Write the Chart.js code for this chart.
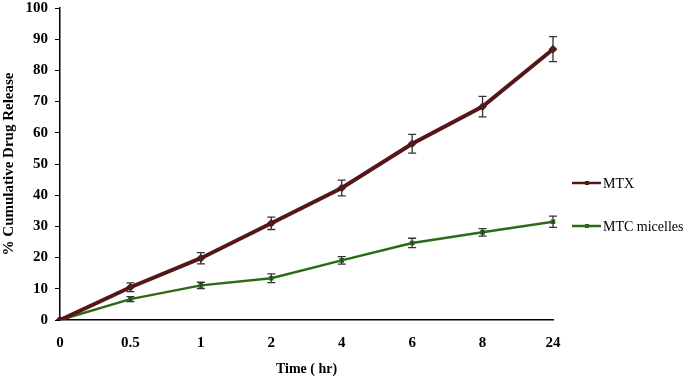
<!DOCTYPE html>
<html>
<head>
<meta charset="utf-8">
<script src="https://cdn.jsdelivr.net/npm/chart.js@4.4.1/dist/chart.umd.min.js"></script>
<style>
    html, body { margin: 0; padding: 0; background: #fff; }
    #wrap { width: 685px; height: 378px; position: relative; }
</style>
</head>
<body>
<div id="wrap"><canvas id="releaseChart"></canvas></div>
<script>
// time points (hr) - plotted evenly spaced like the original
const timeLabels = ["0", "0.5", "1", "2", "4", "6", "8", "24"];

const mtxValues = [0, 10.5, 19.8, 31, 42.3, 56.5, 68.4, 86.8];
const mtxErrors = [0, 1.4, 1.8, 2, 2.5, 3, 3.3, 4];

const micelleValues = [0, 6.7, 11.1, 13.4, 19.1, 24.7, 28.1, 31.5];
const micelleErrors = [0, 0.8, 1, 1.4, 1.2, 1.5, 1.2, 1.8];

const yTicks = [0, 10, 20, 30, 40, 50, 60, 70, 80, 90, 100];

const serif = "'Liberation Serif', 'Times New Roman', serif";

// draws the +/- error bars using the y scale
const errorBarPlugin = {
    id: "errorBars",
    afterDatasetsDraw(chart) {
        const ctx = chart.ctx;
        const yScale = chart.scales.y;
        chart.data.datasets.forEach((ds, i) => {
            const meta = chart.getDatasetMeta(i);
            meta.data.forEach((pt, j) => {
                const err = ds.errors[j];
                if (!err) return;
                const top = yScale.getPixelForValue(ds.data[j] + err);
                const bot = yScale.getPixelForValue(ds.data[j] - err);
                ctx.save();
                ctx.strokeStyle = "#333";
                ctx.lineWidth = 1.3;
                ctx.beginPath();
                ctx.moveTo(pt.x, top);
                ctx.lineTo(pt.x, bot);
                ctx.moveTo(pt.x - 4, top);
                ctx.lineTo(pt.x + 4, top);
                ctx.moveTo(pt.x - 4, bot);
                ctx.lineTo(pt.x + 4, bot);
                ctx.stroke();
                ctx.restore();
            });
        });
    }
};

// legend sits to the right with wide spacing, so draw it by hand
const sideLegendPlugin = {
    id: "sideLegend",
    afterDraw(chart) {
        const ctx = chart.ctx;
        const x0 = chart.chartArea.right + 19;
        const rows = [183, 226];
        chart.data.datasets.forEach((ds, i) => {
            const y = rows[i];
            ctx.save();
            ctx.strokeStyle = ds.borderColor;
            ctx.lineWidth = 2.5;
            ctx.beginPath();
            ctx.moveTo(x0, y);
            ctx.lineTo(x0 + 29, y);
            ctx.stroke();
            ctx.fillStyle = ds.borderColor;
            ctx.fillRect(x0 + 13, y - 2, 4, 4);
            ctx.fillStyle = "#000";
            ctx.font = "14px " + serif;
            ctx.textBaseline = "middle";
            ctx.fillText(ds.label, x0 + 31, y + 1);
            ctx.restore();
        });
    }
};

const ctx = document.getElementById("releaseChart").getContext("2d");

new Chart(ctx, {
    type: "line",
    data: {
        labels: timeLabels,
        datasets: [
            {
                label: "MTX",
                data: mtxValues,
                errors: mtxErrors,
                borderColor: "#561619",
                backgroundColor: "#561619",
                borderWidth: 4,
                pointStyle: "rectRot",
                pointRadius: 1.5,
                tension: 0,
                fill: false,
            },
            {
                label: "MTC micelles",
                data: micelleValues,
                errors: micelleErrors,
                borderColor: "#2b6a16",
                backgroundColor: "#2b6a16",
                borderWidth: 2.5,
                pointStyle: "rect",
                pointRadius: 1.5,
                tension: 0,
                fill: false,
            },
        ],
    },
    options: {
        responsive: true,
        maintainAspectRatio: false,
        animation: false,
        layout: {
            padding: { top: 5, right: 132, left: 0, bottom: 0 },
        },
        scales: {
            x: {
                type: "category",
                offset: false,
                grid: { display: false, drawTicks: false },
                border: { color: "#000", width: 1.5 },
                ticks: {
                    color: "#000",
                    padding: 14,
                    font: { family: serif, size: 15, weight: "bold" },
                    maxRotation: 0,
                },
                title: {
                    display: true,
                    text: "Time ( hr)",
                    color: "#000",
                    font: { family: serif, size: 14, weight: "bold" },
                    padding: { top: 10, bottom: 0 },
                },
                afterFit(scale) {
                    scale.height = 58;
                },
            },
            y: {
                min: 0,
                max: 100,
                afterBuildTicks(scale) {
                    scale.ticks = yTicks.map((v) => ({ value: v }));
                },
                grid: { drawOnChartArea: false, tickLength: 5, color: "#000" },
                border: { color: "#000", width: 1.5 },
                ticks: {
                    color: "#000",
                    padding: 7,
                    font: { family: serif, size: 15, weight: "bold" },
                },
                title: {
                    display: true,
                    text: "% Cumulative Drug Release",
                    color: "#000",
                    font: { family: serif, size: 15, weight: "bold" },
                    padding: { top: 0, bottom: 0 },
                },
                afterFit(scale) {
                    scale.width = 60;
                    // let the "100" label poke above the plot like the original
                    scale.paddingTop = 0;
                },
            },
        },
        plugins: {
            legend: { display: false },
            tooltip: { enabled: false },
        },
    },
    plugins: [errorBarPlugin, sideLegendPlugin],
});
</script>
</body>
</html>
